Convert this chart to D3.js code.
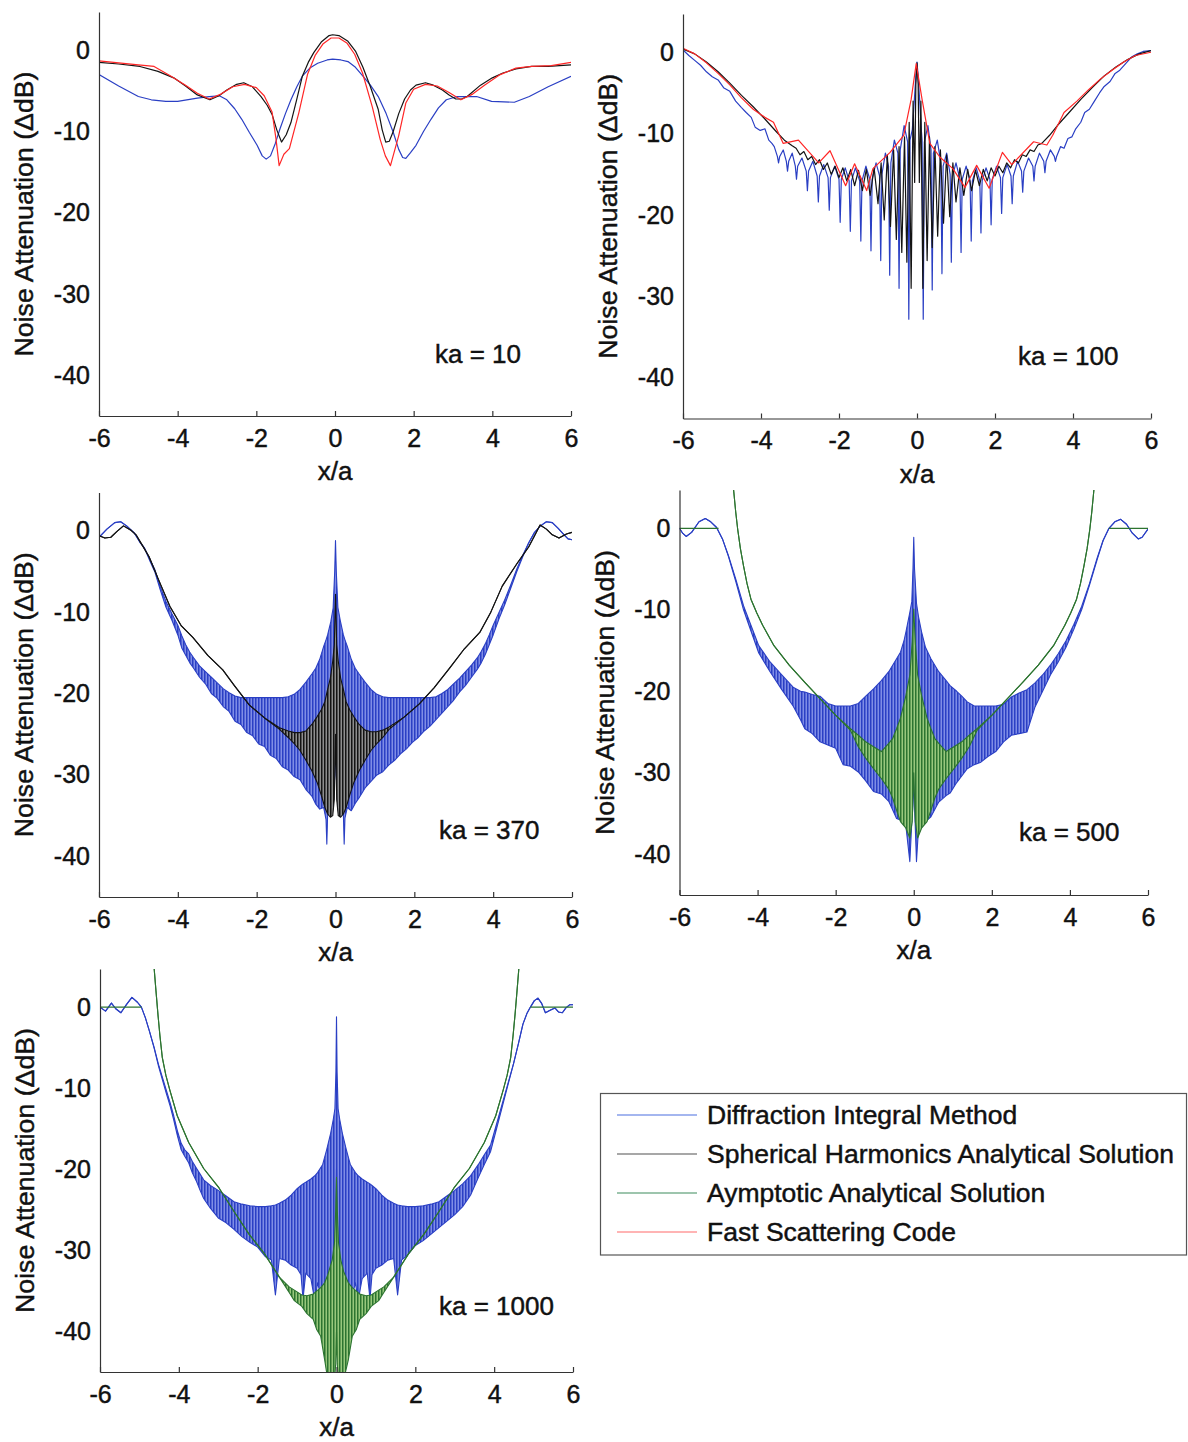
<!DOCTYPE html>
<html>
<head>
<meta charset="utf-8">
<script src="https://cdn.jsdelivr.net/npm/d3@7"></script>
<style>
  body { margin: 0; background: #fff; }
  svg text { font-family: "Liberation Sans", Arial, Helvetica, sans-serif; fill: #111; stroke: #111; stroke-width: 0.45px; }
</style>
</head>
<body>
<svg id="fig" width="1188" height="1442"></svg>
<script>
// ---------------- data ----------------
const xTicks = [-6, -4, -2, 0, 2, 4, 6];
const yTicks = [0, -10, -20, -30, -40];
const legendNames = ["Diffraction Integral Method", "Spherical Harmonics Analytical Solution",
                     "Aymptotic Analytical Solution", "Fast Scattering Code"];
const kaLabels = ["ka = 10", "ka = 100", "ka = 370", "ka = 500", "ka = 1000"];

// ka = 10   [x/a, dB]
const blue10 = [[-6,-3.0],[-5.5,-4.4],[-5.0,-5.7],[-4.67,-6.1],[-4.3,-6.3],[-4.0,-6.3],[-3.5,-5.9],[-3.2,-5.7],[-2.94,-5.6],[-2.75,-6.1],[-2.55,-7.2],[-2.37,-8.5],[-2.18,-10.1],[-1.98,-11.7],[-1.85,-13.0],[-1.75,-13.4],[-1.64,-13.0],[-1.52,-11.5],[-1.4,-9.7],[-1.26,-7.8],[-1.12,-6.1],[-0.97,-4.5],[-0.83,-3.2],[-0.64,-2.2],[-0.44,-1.6],[-0.2,-1.2],[-0.06,-1.1],[0.15,-1.2],[0.33,-1.4],[0.52,-2.1],[0.71,-3.2],[0.9,-4.3],[1.1,-5.7],[1.3,-7.8],[1.48,-10.1],[1.62,-12.2],[1.72,-13.2],[1.8,-13.3],[1.92,-12.6],[2.06,-11.7],[2.25,-10.0],[2.44,-8.5],[2.63,-7.1],[2.83,-6.1],[3.11,-5.7],[3.6,-5.7],[3.98,-6.3],[4.56,-6.4],[4.94,-5.7],[5.42,-4.5],[6,-3.2]];
const black10 = [[-6,-1.5],[-5.5,-1.7],[-4.96,-2.0],[-4.5,-2.6],[-4.1,-3.4],[-3.8,-4.4],[-3.5,-5.5],[-3.18,-6.1],[-2.95,-5.6],[-2.75,-4.9],[-2.5,-4.2],[-2.32,-4.0],[-2.1,-4.5],[-1.88,-5.7],[-1.72,-6.8],[-1.6,-7.9],[-1.48,-9.8],[-1.36,-11.3],[-1.24,-10.4],[-1.12,-8.9],[-0.98,-6.2],[-0.83,-3.2],[-0.68,-1.5],[-0.54,-0.3],[-0.35,1.0],[-0.15,1.8],[-0.06,1.9],[0.1,1.8],[0.33,1.1],[0.52,-0.1],[0.71,-2.1],[0.9,-4.5],[1.1,-7.3],[1.2,-9.8],[1.29,-11.3],[1.38,-11.2],[1.48,-10.0],[1.62,-7.8],[1.77,-6.0],[1.92,-4.9],[2.06,-4.3],[2.3,-4.0],[2.5,-4.3],[2.73,-4.9],[2.9,-5.5],[3.07,-6.0],[3.22,-6.0],[3.36,-5.7],[3.7,-4.3],[4.0,-3.4],[4.27,-2.8],[4.6,-2.3],[5.0,-2.0],[5.42,-2.0],[6,-1.8]];
const red10 = [[-6,-1.3],[-5.0,-1.8],[-4.6,-2.0],[-4.2,-3.1],[-3.8,-4.3],[-3.5,-5.3],[-3.2,-6.0],[-2.9,-5.4],[-2.6,-4.5],[-2.3,-4.2],[-2.0,-4.6],[-1.8,-5.6],[-1.6,-7.6],[-1.5,-10.9],[-1.42,-14.2],[-1.3,-12.8],[-1.16,-12.1],[-0.92,-7.7],[-0.7,-3.0],[-0.5,-0.6],[-0.3,0.8],[-0.1,1.5],[0.1,1.5],[0.3,0.9],[0.5,-0.5],[0.7,-2.8],[0.95,-7.0],[1.15,-11.0],[1.28,-13.0],[1.41,-14.2],[1.62,-10.5],[1.8,-6.5],[2.0,-4.8],[2.3,-4.2],[2.6,-4.4],[2.9,-5.2],[3.2,-6.1],[3.5,-5.4],[3.8,-4.3],[4.2,-3.0],[4.6,-2.2],[5.0,-2.0],[5.5,-1.9],[6,-1.5]];

// ka = 100   [x/a, dB]
const blue100 = [[-6,0.3],[-5.85,-0.4],[-5.7,-1.0],[-5.55,-1.6],[-5.4,-2.4],[-5.25,-3.0],[-5.1,-3.4],[-4.95,-4.4],[-4.8,-4.8],[-4.65,-6.0],[-4.5,-6.8],[-4.38,-7.4],[-4.25,-8.0],[-4.15,-9.2],[-4.02,-9.6],[-3.9,-9.4],[-3.8,-10.8],[-3.72,-11.2],
  [-3.66,-11.6],[-3.58,-12.8],[-3.55,-13.6],[-3.52,-12.8],[-3.43,-12.0],[-3.35,-13.4],[-3.32,-14.6],[-3.29,-13.4],
  [-3.2,-12.4],[-3.12,-14.0],[-3.09,-15.6],[-3.06,-14.0],[-2.95,-13.0],[-2.84,-14.6],[-2.81,-17.0],[-2.78,-14.6],
  [-2.67,-13.4],[-2.56,-15.2],[-2.53,-18.4],[-2.5,-15.2],[-2.39,-13.8],[-2.28,-15.4],[-2.25,-19.4],[-2.22,-15.4],
  [-2.11,-14.0],[-2.0,-15.6],[-1.97,-20.9],[-1.94,-15.6],[-1.84,-14.2],[-1.74,-15.8],[-1.71,-22.0],[-1.68,-15.8],
  [-1.58,-14.2],[-1.47,-15.8],[-1.44,-23.2],[-1.41,-15.8],[-1.31,-14.0],[-1.21,-15.6],[-1.18,-24.4],[-1.15,-15.6],
  [-1.05,-13.6],[-0.96,-15.2],[-0.93,-25.6],[-0.9,-15.0],[-0.81,-12.4],[-0.73,-14.0],[-0.7,-27.4],[-0.67,-13.6],
  [-0.58,-10.8],[-0.49,-12.4],[-0.46,-29.0],[-0.43,-12.0],[-0.33,-9.0],[-0.24,-11.0],[-0.21,-32.8],[-0.18,-10.8],
  [-0.12,-9.5],[-0.07,-6.0],[-0.03,-3.0],[0,-1.2],[0.03,-3.0],[0.07,-6.0],[0.11,-9.5],
  [0.13,-10.8],[0.16,-32.8],[0.19,-11.0],[0.28,-9.0],[0.36,-12.0],[0.39,-29.2],[0.42,-12.4],
  [0.52,-10.8],[0.61,-13.6],[0.64,-27.2],[0.67,-14.0],[0.76,-12.4],[0.85,-15.0],[0.88,-25.8],[0.91,-15.2],
  [1.0,-13.6],[1.1,-15.6],[1.13,-24.6],[1.16,-15.6],[1.26,-14.0],[1.36,-15.8],[1.39,-23.2],[1.42,-15.8],
  [1.52,-14.2],[1.61,-15.8],[1.64,-22.2],[1.67,-15.8],[1.77,-14.2],[1.87,-15.6],[1.9,-21.2],[1.93,-15.6],
  [2.04,-14.0],[2.14,-15.4],[2.17,-19.8],[2.2,-15.4],[2.31,-13.8],[2.41,-15.2],[2.44,-18.6],[2.47,-15.2],
  [2.58,-13.4],[2.68,-14.6],[2.71,-17.2],[2.74,-14.6],[2.86,-13.0],[2.97,-14.0],[3.0,-15.8],[3.03,-14.0],
  [3.14,-12.4],[3.25,-13.4],[3.28,-14.8],[3.31,-13.4],[3.42,-12.0],[3.52,-12.8],[3.55,-13.4],[3.58,-12.8],
  [3.68,-11.6],[3.77,-11.8],[3.87,-10.6],[3.97,-10.4],[4.07,-9.4],[4.2,-8.6],[4.3,-7.4],[4.42,-7.0],[4.55,-6.0],[4.68,-5.0],[4.8,-4.2],[4.95,-3.6],[5.08,-2.6],[5.2,-2.2],[5.35,-1.4],[5.5,-0.6],[5.65,-0.2],[5.8,0.1],[6,0.2]];
const black100 = [[-6,0.4],[-5.7,-0.2],[-5.4,-1.2],[-5.1,-2.4],[-4.8,-3.8],[-4.5,-5.3],[-4.2,-6.7],[-3.9,-8.2],[-3.6,-9.8],[-3.4,-10.8],[-3.2,-11.5],[-3.1,-11.8],[-3.0,-12.6],[-2.9,-12.2],[-2.8,-13.2],[-2.7,-12.8],[-2.6,-13.8],[-2.5,-13.2],[-2.4,-14.4],[-2.3,-13.6],[-2.2,-15.0],[-2.1,-14.0],[-2.0,-15.4],[-1.9,-14.2],[-1.8,-15.8],[-1.7,-14.4],[-1.6,-16.4],[-1.5,-14.5],[-1.4,-17.0],[-1.3,-14.4],[-1.2,-17.6],[-1.1,-14.2],[-1.0,-18.6],[-0.92,-13.6],[-0.84,-20.6],[-0.76,-12.6],[-0.68,-21.4],[-0.6,-12.0],[-0.53,-23.0],[-0.46,-11.6],[-0.39,-24.6],[-0.32,-10.4],[-0.26,-25.8],[-0.2,-8.6],[-0.15,-29.0],[-0.1,-6.0],[-0.06,-16.0],[-0.03,-4.0],[0,-1.3],
  [0.03,-4.0],[0.06,-16.0],[0.1,-6.0],[0.15,-29.0],[0.2,-8.6],[0.26,-25.6],[0.32,-10.4],[0.39,-24.0],[0.46,-11.6],[0.53,-22.6],[0.6,-12.0],[0.68,-21.0],[0.76,-12.6],[0.84,-20.2],[0.92,-13.6],[1.0,-18.4],[1.1,-14.2],[1.2,-17.6],[1.3,-14.4],[1.4,-17.0],[1.5,-14.5],[1.6,-16.4],[1.7,-14.4],[1.8,-15.8],[1.9,-14.2],[2.0,-15.2],[2.1,-14.0],[2.2,-14.8],[2.3,-13.6],[2.4,-14.2],[2.5,-13.2],[2.6,-13.6],[2.7,-12.6],[2.8,-12.8],[2.9,-12.0],[3.0,-12.2],[3.1,-11.4],[3.2,-11.2],[3.4,-10.2],[3.6,-9.0],[3.9,-7.4],[4.2,-5.8],[4.5,-4.3],[4.8,-2.9],[5.1,-1.8],[5.4,-0.9],[5.7,-0.2],[6,0.2]];
const red100 = [[-6,0.5],[-5.7,-0.2],[-5.4,-1.3],[-5.1,-2.6],[-4.8,-4.0],[-4.5,-5.6],[-4.2,-7.0],[-3.9,-8.0],[-3.68,-8.6],[-3.43,-11.2],[-3.04,-10.8],[-2.52,-13.6],[-2.23,-12.1],[-1.83,-16.4],[-1.6,-13.7],[-1.29,-17.0],[-1.13,-14.3],[-0.69,-12.3],[-0.34,-10.2],[-0.15,-5.8],[-0.02,-1.4],[0.13,-5.8],[0.33,-11.2],[0.59,-12.9],[0.92,-14.3],[1.23,-16.6],[1.53,-13.9],[1.85,-16.7],[2.19,-12.3],[2.43,-13.8],[2.99,-11.0],[3.33,-11.4],[3.48,-10.2],[3.77,-7.4],[4.1,-6.0],[4.4,-4.6],[4.7,-3.3],[5.0,-2.2],[5.3,-1.2],[5.6,-0.4],[6,0]];

// ka = 370   [x/a, upper dB, lower dB] (band of the fast oscillation)
const blue370 = [[-6,-0.8,-0.8],[-5.8,0.2,0.2],[-5.6,1.0,1.0],[-5.45,1.1,1.1],[-5.3,0.6,0.6],[-5.1,-0.3,-0.3],[-4.95,-1.5,-1.5],[-4.85,-2.1,-2.1],[-4.7,-3.6,-3.8],[-4.58,-4.8,-5.1],[-4.45,-6.8,-7.2],[-4.3,-8.7,-9.4],[-4.15,-10.2,-11.0],[-4.0,-11.6,-12.8],[-3.9,-12.9,-14.4],[-3.8,-14.0,-15.3],[-3.7,-14.9,-16.2],[-3.6,-15.6,-16.9],[-3.45,-16.6,-18.0],[-3.3,-17.3,-18.8],[-3.15,-18.0,-20.0],[-3.0,-18.7,-20.6],[-2.85,-19.4,-21.6],[-2.7,-19.9,-22.2],[-2.55,-20.3,-23.4],[-2.4,-20.5,-23.8],[-2.25,-20.5,-24.8],[-2.1,-20.5,-25.2],[-1.95,-20.5,-26.2],[-1.8,-20.5,-26.5],[-1.65,-20.5,-27.6],[-1.5,-20.5,-28.0],[-1.35,-20.5,-29.0],[-1.2,-20.4,-29.4],[-1.05,-20.1,-30.2],[-0.9,-19.5,-30.6],[-0.75,-18.6,-31.8],[-0.6,-17.6,-32.6],[-0.5,-16.9,-33.6],[-0.4,-15.8,-34.2],[-0.3,-14.2,-34.0],[-0.24,-13.4,-35.5],[-0.22,-13.1,-38.5],[-0.2,-12.8,-34.8],[-0.12,-11.2,-35.0],[-0.06,-9.5,-34.0],[-0.02,-5.0,-30.0],[0,-1.2,-20.0],[0.02,-5.0,-30.0],[0.06,-9.4,-34.2],[0.12,-11.0,-35.0],[0.2,-12.8,-34.8],[0.22,-13.1,-38.5],[0.24,-13.4,-35.3],[0.3,-14.2,-34.0],[0.4,-15.8,-34.4],[0.5,-16.9,-33.5],[0.6,-17.6,-32.8],[0.75,-18.6,-31.6],[0.9,-19.5,-30.8],[1.05,-20.1,-30.0],[1.2,-20.4,-29.6],[1.35,-20.5,-28.8],[1.5,-20.5,-28.2],[1.65,-20.5,-27.4],[1.8,-20.5,-26.8],[1.95,-20.5,-26.0],[2.1,-20.5,-25.4],[2.25,-20.5,-24.6],[2.4,-20.5,-24.0],[2.55,-20.4,-23.2],[2.7,-20.0,-22.4],[2.85,-19.5,-21.6],[3.0,-18.8,-20.8],[3.15,-18.1,-19.8],[3.3,-17.3,-19.0],[3.45,-16.5,-18.0],[3.6,-15.6,-17.0],[3.7,-14.8,-16.2],[3.8,-13.9,-15.2],[3.9,-12.8,-14.0],[4.0,-11.6,-12.8],[4.15,-10.0,-10.8],[4.3,-8.4,-9.0],[4.45,-6.6,-7.0],[4.6,-4.7,-5.0],[4.75,-3.0,-3.2],[4.9,-1.5,-1.5],[5.05,-0.2,-0.2],[5.2,0.6,0.6],[5.35,1.1,1.1],[5.5,1.0,1.0],[5.65,0.3,0.3],[5.8,-0.5,-0.5],[5.9,-1.0,-1.0],[6,-1.1,-1.1]];
const black370 = [[-6,-0.6,-0.6],[-5.85,-0.9,-0.9],[-5.7,-0.8,-0.8],[-5.55,-0.1,-0.1],[-5.38,0.6,0.6],[-5.2,0.1,0.1],[-5.06,-0.5,-0.5],[-4.9,-1.8,-1.8],[-4.73,-3.2,-3.2],[-4.49,-6.0,-6.0],[-4.2,-9.3,-9.3],[-3.91,-11.7,-11.7],[-3.62,-13.1,-13.1],[-3.24,-15.3,-15.3],[-2.86,-17.1,-17.1],[-2.57,-19.0,-19.0],[-2.19,-21.4,-21.4],[-1.8,-23.0,-23.0],[-1.42,-24.2,-24.4],[-1.2,-24.6,-25.4],[-1.04,-24.8,-26.2],[-0.9,-24.8,-27.0],[-0.75,-24.6,-28.2],[-0.6,-23.8,-29.5],[-0.46,-22.8,-31.0],[-0.36,-22.0,-32.5],[-0.27,-21.0,-34.0],[-0.2,-19.5,-34.8],[-0.13,-18.1,-35.2],[-0.07,-16.0,-35.0],[-0.03,-14.0,-33.0],[0,-7.8,-25.0],[0.03,-14.0,-33.0],[0.07,-16.0,-35.0],[0.13,-18.1,-35.2],[0.2,-19.5,-34.8],[0.27,-21.0,-34.0],[0.36,-22.0,-32.5],[0.46,-22.8,-31.0],[0.6,-23.8,-29.5],[0.75,-24.5,-28.2],[0.9,-24.7,-27.0],[1.04,-24.7,-26.2],[1.2,-24.5,-25.4],[1.36,-24.1,-24.4],[1.74,-22.9,-22.9],[2.12,-21.3,-21.3],[2.5,-19.3,-19.3],[2.89,-16.9,-16.9],[3.27,-14.5,-14.5],[3.66,-12.5,-12.5],[3.94,-10.0,-10.0],[4.23,-6.8,-6.8],[4.61,-4.0,-4.0],[4.9,-2.0,-2.0],[5.05,-0.6,-0.6],[5.19,0.7,0.7],[5.35,0.2,0.2],[5.5,-0.5,-0.5],[5.67,-0.9,-0.9],[5.86,-0.4,-0.4],[6,-0.2,-0.2]];

// ka = 500   [x/a, upper dB, lower dB]
const blue500 = [[-6,0,0],[-5.92,-0.6,-0.6],[-5.83,-1.0,-1.0],[-5.69,-0.5,-0.5],[-5.5,0.8,0.8],[-5.34,1.2,1.2],[-5.2,0.8,0.8],[-5.05,0.1,0.1],[-4.9,-1.3,-1.3],[-4.75,-3.3,-3.4],[-4.56,-6.2,-6.5],[-4.36,-9.5,-10.0],[-4.17,-11.9,-12.6],[-3.97,-14.4,-15.3],[-3.68,-16.4,-17.6],[-3.38,-18.0,-19.8],[-3.09,-19.5,-21.8],[-2.9,-20.0,-23.5],[-2.79,-20.1,-24.6],[-2.6,-20.4,-25.2],[-2.4,-20.6,-26.2],[-2.2,-21.5,-26.6],[-2.0,-21.8,-27.0],[-1.81,-21.8,-29.0],[-1.62,-21.8,-29.2],[-1.42,-21.5,-29.9],[-1.23,-20.6,-31.0],[-1.03,-19.7,-32.3],[-0.83,-18.7,-32.6],[-0.64,-17.6,-33.5],[-0.44,-16.0,-35.6],[-0.34,-15.2,-35.8],[-0.25,-13.8,-36.4],[-0.2,-12.7,-36.6],[-0.1,-10.3,-40.9],[-0.05,-9.0,-36.0],[-0.02,-5.0,-34.0],[0,-1.1,-30.0],[0.02,-5.0,-34.0],[0.07,-9.2,-40.9],[0.12,-10.8,-37.0],[0.2,-12.7,-36.6],[0.3,-14.6,-36.0],[0.44,-16.0,-35.4],[0.64,-17.6,-33.6],[0.83,-18.7,-32.8],[0.93,-19.3,-32.5],[1.1,-20.0,-31.2],[1.23,-20.6,-30.4],[1.37,-21.3,-29.5],[1.55,-21.8,-29.0],[1.72,-21.8,-28.7],[1.9,-21.8,-28.0],[2.1,-21.8,-27.4],[2.3,-21.6,-26.2],[2.5,-20.7,-25.4],[2.7,-20.2,-25.2],[2.9,-19.8,-25.0],[3.1,-19.0,-22.0],[3.3,-18.0,-20.0],[3.5,-16.8,-18.0],[3.7,-15.4,-16.4],[3.9,-13.8,-14.6],[4.1,-11.8,-12.4],[4.3,-9.6,-10.0],[4.5,-6.8,-7.0],[4.7,-3.6,-3.8],[4.85,-1.5,-1.5],[5.0,0.0,0.0],[5.15,0.8,0.8],[5.3,1.1,1.1],[5.45,0.5,0.5],[5.6,-0.6,-0.6],[5.75,-1.3,-1.3],[5.85,-1.1,-1.1],[6,-0.1,-0.1]];
const green500 = [[-4.62,5.0,5.0],[-4.56,2.0,2.0],[-4.51,-0.1,-0.1],[-4.44,-2.5,-2.5],[-4.36,-4.6,-4.6],[-4.27,-6.8,-6.8],[-4.17,-8.7,-8.7],[-4.02,-10.4,-10.4],[-3.87,-11.9,-11.9],[-3.58,-14.4,-14.4],[-3.19,-16.8,-16.8],[-2.79,-18.9,-18.9],[-2.4,-20.9,-20.9],[-2.01,-22.9,-22.9],[-1.62,-24.6,-24.8],[-1.42,-25.4,-26.8],[-1.23,-26.2,-28.2],[-1.03,-26.8,-29.5],[-0.83,-27.4,-30.7],[-0.64,-26.4,-32.0],[-0.54,-25.8,-33.1],[-0.44,-24.6,-34.6],[-0.34,-23.3,-36.0],[-0.2,-20.5,-36.8],[-0.1,-18.0,-38.0],[-0.04,-14.0,-36.0],[0,-9.9,-30.0],[0.04,-14.0,-36.0],[0.1,-18.0,-38.0],[0.2,-20.5,-36.8],[0.34,-23.3,-36.0],[0.44,-24.6,-34.6],[0.54,-25.8,-33.1],[0.64,-26.4,-32.0],[0.83,-27.4,-30.7],[1.03,-26.8,-29.5],[1.23,-26.2,-28.2],[1.42,-25.4,-26.8],[1.62,-24.6,-24.8],[2.01,-22.9,-22.9],[2.4,-20.9,-20.9],[2.79,-18.9,-18.9],[3.19,-16.8,-16.8],[3.58,-14.4,-14.4],[3.87,-11.9,-11.9],[4.02,-10.4,-10.4],[4.17,-8.7,-8.7],[4.27,-6.8,-6.8],[4.36,-4.6,-4.6],[4.44,-2.5,-2.5],[4.51,-0.1,-0.1],[4.56,2.0,2.0],[4.62,5.0,5.0]];
const green500ZeroL = [[-6,0],[-5.0,0]];
const green500ZeroR = [[5.0,0],[6,0]];

// ka = 1000   [x/a, upper dB, lower dB]
const blue1000 = [[-6,0,0],[-5.86,-0.5,-0.5],[-5.71,0.5,0.5],[-5.6,-0.2,-0.2],[-5.47,-0.7,-0.7],[-5.33,0.3,0.3],[-5.19,1.2,1.2],[-5.05,0.6,0.6],[-4.95,0.0,0.0],[-4.85,-1.3,-1.3],[-4.75,-2.9,-2.9],[-4.63,-4.9,-5.0],[-4.52,-7.0,-7.2],[-4.42,-8.6,-8.9],[-4.32,-10.2,-10.6],[-4.22,-11.8,-12.2],[-4.13,-13.4,-13.9],[-4.04,-15.2,-15.8],[-3.94,-16.8,-17.6],[-3.85,-17.6,-18.4],[-3.75,-18.1,-19.2],[-3.66,-19.0,-20.4],[-3.56,-19.8,-21.4],[-3.46,-20.6,-22.6],[-3.37,-21.3,-23.6],[-3.2,-22.0,-24.8],[-3.0,-22.6,-26.0],[-2.8,-23.3,-26.6],[-2.6,-24.0,-27.4],[-2.4,-24.3,-28.3],[-2.2,-24.5,-29.0],[-2.0,-24.6,-29.6],[-1.8,-24.6,-30.8],[-1.65,-24.5,-31.2],[-1.55,-24.4,-35.5],[-1.45,-24.2,-31.0],[-1.3,-23.8,-31.2],[-1.15,-23.2,-31.8],[-1.0,-22.4,-32.2],[-0.9,-22.0,-33.0],[-0.85,-21.8,-36.0],[-0.78,-21.6,-32.8],[-0.65,-21.2,-33.5],[-0.55,-20.8,-36.2],[-0.48,-20.4,-34.0],[-0.35,-19.4,-36.5],[-0.25,-17.6,-34.5],[-0.15,-15.6,-35.5],[-0.08,-13.8,-34.0],[-0.04,-12.5,-30.0],[-0.015,-8.0,-25.0],[0,-1.2,-20.0],[0.015,-8.0,-25.0],[0.04,-12.5,-30.0],[0.08,-13.8,-34.0],[0.15,-15.6,-35.5],[0.25,-17.6,-34.5],[0.35,-19.4,-36.5],[0.48,-20.4,-34.0],[0.55,-20.8,-36.2],[0.65,-21.2,-33.5],[0.78,-21.6,-32.8],[0.85,-21.8,-36.0],[0.9,-22.0,-33.0],[1.0,-22.4,-32.2],[1.15,-23.2,-31.8],[1.3,-23.8,-31.2],[1.45,-24.2,-31.0],[1.55,-24.4,-35.5],[1.65,-24.5,-31.2],[1.8,-24.6,-30.6],[2.0,-24.6,-29.4],[2.2,-24.5,-28.8],[2.4,-24.3,-28.0],[2.6,-24.0,-27.2],[2.8,-23.3,-26.4],[3.0,-22.6,-25.6],[3.2,-21.8,-24.6],[3.4,-20.8,-23.2],[3.6,-19.4,-21.0],[3.75,-18.2,-19.4],[3.91,-17.0,-17.8],[4.05,-14.6,-15.2],[4.2,-12.0,-12.4],[4.35,-9.4,-9.6],[4.49,-7.0,-7.0],[4.62,-4.4,-4.4],[4.73,-2.1,-2.1],[4.83,-0.8,-0.8],[4.92,0.0,0.0],[5.02,0.8,0.8],[5.11,1.1,1.1],[5.2,0.5,0.5],[5.3,-0.7,-0.7],[5.42,-0.4,-0.4],[5.54,-0.1,-0.1],[5.63,-0.6,-0.6],[5.73,-0.7,-0.7],[5.82,-0.1,-0.1],[5.92,0.3,0.3],[6,0.3,0.3]];
const green1000 = [[-4.63,5.0,5.0],[-4.58,2.0,2.0],[-4.53,-0.9,-0.9],[-4.48,-3.5,-3.5],[-4.42,-6.2,-6.2],[-4.33,-8.4,-8.4],[-4.23,-10.2,-10.2],[-4.04,-13.4,-13.4],[-3.75,-16.7,-16.7],[-3.37,-19.9,-19.9],[-2.98,-22.3,-22.3],[-2.6,-25.2,-25.2],[-2.22,-28.0,-28.0],[-1.83,-30.4,-30.4],[-1.45,-33.3,-33.3],[-1.2,-34.5,-35.2],[-1.07,-34.9,-36.2],[-0.88,-35.5,-36.9],[-0.75,-35.6,-37.8],[-0.59,-35.4,-38.5],[-0.5,-35.0,-39.8],[-0.4,-34.6,-40.6],[-0.3,-34.0,-43.5],[-0.22,-33.0,-46.0],[-0.11,-31.2,-46.0],[-0.05,-29.0,-46.0],[-0.02,-25.0,-44.0],[0,-21.0,-40.0],[0.02,-25.0,-44.0],[0.05,-29.0,-46.0],[0.11,-31.2,-46.0],[0.18,-32.6,-46.0],[0.3,-34.0,-43.5],[0.4,-34.6,-40.6],[0.5,-35.0,-39.8],[0.59,-35.4,-38.5],[0.75,-35.6,-37.8],[0.88,-35.5,-36.9],[1.07,-34.9,-36.2],[1.2,-34.5,-35.2],[1.45,-33.3,-33.3],[1.83,-30.4,-30.4],[2.22,-28.0,-28.0],[2.6,-25.2,-25.2],[2.98,-22.3,-22.3],[3.37,-19.9,-19.9],[3.75,-16.7,-16.7],[4.04,-13.4,-13.4],[4.23,-10.2,-10.2],[4.33,-8.4,-8.4],[4.42,-6.2,-6.2],[4.48,-3.5,-3.5],[4.53,-0.9,-0.9],[4.58,2.0,2.0],[4.63,5.0,5.0]];
const green1000ZeroL = [[-6,0],[-4.95,0]];
const green1000ZeroR = [[4.92,0],[6,0]];

// ---------------- styling / layout ----------------
const FONT = '"Liberation Sans", Arial, Helvetica, sans-serif';
const colors = {
  blue:  { stroke: "#2a3fc4", light: "#7f8de6" },
  black: { stroke: "#141414", light: "#8e8e8e" },
  green: { stroke: "#2c7430", light: "#98c87c" },
  red:   { stroke: "#ff2626", light: "#ff9a9a" }
};
const legendColors = ["#4a6ee0", "#505050", "#3d8c5c", "#ff6a6a"];

const panels = [
  { left: 99,    right: 571,  top: 12,  bottom: 416,  labelX: 435,  labelY: 363,  ka: kaLabels[0],
    series: [ {c: "blue", line: blue10}, {c: "black", line: black10}, {c: "red", line: red10} ] },
  { left: 683,   right: 1151, top: 14,  bottom: 418.5, labelX: 1018, labelY: 365, ka: kaLabels[1],
    series: [ {c: "blue", line: blue100}, {c: "black", line: black100}, {c: "red", line: red100} ] },
  { left: 99,    right: 572,  top: 492.5, bottom: 897, labelX: 439,  labelY: 839, ka: kaLabels[2],
    series: [ {c: "blue", band: blue370}, {c: "black", band: black370} ] },
  { left: 679.5, right: 1148, top: 490, bottom: 895,   labelX: 1019, labelY: 841, ka: kaLabels[3],
    series: [ {c: "blue", band: blue500}, {c: "green", line: green500ZeroL}, {c: "green", line: green500ZeroR},
              {c: "green", band: green500} ] },
  { left: 100,   right: 573,  top: 969, bottom: 1372,  labelX: 439,  labelY: 1315, ka: kaLabels[4],
    series: [ {c: "blue", band: blue1000}, {c: "green", line: green1000ZeroL}, {c: "green", line: green1000ZeroR},
              {c: "green", band: green1000} ] }
];

const svg = d3.select("#fig");
const defs = svg.append("defs");

// vertical stripe fills stand in for the dense oscillation
Object.entries(colors).forEach(([k, c]) => {
  const p = defs.append("pattern").attr("id", "stripe-" + k)
    .attr("width", 3).attr("height", 6).attr("patternUnits", "userSpaceOnUse");
  p.append("rect").attr("width", 3).attr("height", 6).attr("fill", c.light);
  p.append("rect").attr("width", 1.5).attr("height", 6).attr("fill", c.stroke);
});

function drawPanel(p, i) {
  const x = d3.scaleLinear([-6, 6], [p.left, p.right]);
  const y = d3.scaleLinear([-45, 4.7], [p.bottom, p.top]);

  defs.append("clipPath").attr("id", "clip" + i).append("rect")
    .attr("x", p.left).attr("y", p.top)
    .attr("width", p.right - p.left).attr("height", p.bottom - p.top);

  const g = svg.append("g").attr("clip-path", `url(#clip${i})`);
  const line = d3.line().x(d => x(d[0])).y(d => y(d[1]));
  const top = d3.line().x(d => x(d[0])).y(d => y(d[1]));
  const bot = d3.line().x(d => x(d[0])).y(d => y(d[2]));
  const area = d3.area().x(d => x(d[0])).y0(d => y(d[2])).y1(d => y(d[1]));

  p.series.forEach(s => {
    const col = colors[s.c];
    if (s.band) {
      g.append("path").datum(s.band).attr("d", area)
        .attr("fill", `url(#stripe-${s.c})`).attr("stroke", "none");
      [top, bot].forEach(gen => g.append("path").datum(s.band).attr("d", gen)
        .attr("fill", "none").attr("stroke", col.stroke).attr("stroke-width", 1.1)
        .attr("stroke-linejoin", "round"));
    } else {
      g.append("path").datum(s.line).attr("d", line)
        .attr("fill", "none").attr("stroke", col.stroke).attr("stroke-width", 1.2)
        .attr("stroke-linejoin", "round");
    }
  });

  // axes
  const ax = svg.append("g").attr("transform", `translate(0,${p.bottom})`)
    .call(d3.axisBottom(x).tickValues(xTicks).tickSizeInner(-5).tickSizeOuter(0)
      .tickPadding(13).tickFormat(d => String(d)));
  const ay = svg.append("g").attr("transform", `translate(${p.left},0)`)
    .call(d3.axisLeft(y).tickValues(yTicks).tickSize(0).tickPadding(9).tickFormat(d => String(d)));
  [ax, ay].forEach(a => {
    a.attr("font-size", 25).attr("font-family", FONT);
    a.select(".domain").attr("stroke", "#333").attr("stroke-width", 1.2);
    a.selectAll(".tick line").attr("stroke", "#333").attr("stroke-width", 1.2);
    a.selectAll(".tick text").attr("fill", "#111");
  });

  svg.append("text").attr("x", (p.left + p.right) / 2).attr("y", p.bottom + 64)
    .attr("text-anchor", "middle").attr("font-size", 26).text("x/a");
  svg.append("text")
    .attr("transform", `translate(${p.left - 66},${(p.top + p.bottom) / 2}) rotate(-90)`)
    .attr("text-anchor", "middle").attr("font-size", 26.7).text("Noise Attenuation (\u0394dB)");
  svg.append("text").attr("x", p.labelX).attr("y", p.labelY)
    .attr("font-size", 26).text(p.ka);
}

panels.forEach(drawPanel);

// legend
const lg = svg.append("g");
lg.append("rect").attr("x", 600.5).attr("y", 1093.5).attr("width", 586).attr("height", 161.5)
  .attr("fill", "#fff").attr("stroke", "#555").attr("stroke-width", 1.2);
const rowY = d3.scalePoint().domain(legendNames).range([1115, 1232]);
legendNames.forEach((name, i) => {
  lg.append("line").attr("x1", 617).attr("x2", 697)
    .attr("y1", rowY(name)).attr("y2", rowY(name))
    .attr("stroke", legendColors[i]).attr("stroke-width", 1.2);
  lg.append("text").attr("x", 707).attr("y", rowY(name) + 9)
    .attr("font-size", 26.5).text(name);
});
</script>
</body>
</html>
